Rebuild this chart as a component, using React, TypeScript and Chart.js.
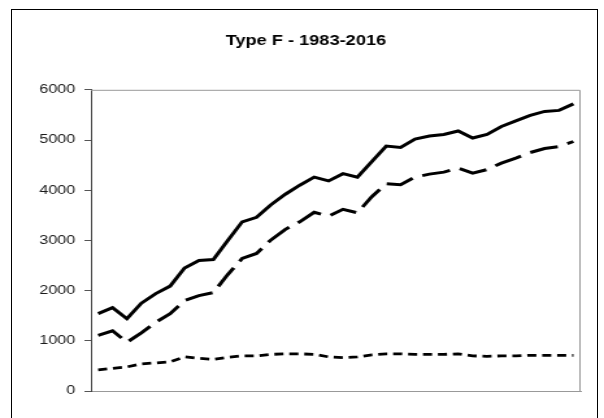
import React, { useEffect, useRef } from "react";
import { Chart, registerables } from "chart.js";

Chart.register(...registerables);

const TITLE = "Type F - 1983-2016";

const years = [
  "1983", "1984", "1985", "1986", "1987", "1988", "1989", "1990", "1991", "1992",
  "1993", "1994", "1995", "1996", "1997", "1998", "1999", "2000", "2001", "2002",
  "2003", "2004", "2005", "2006", "2007", "2008", "2009", "2010", "2011", "2012",
  "2013", "2014", "2015", "2016",
];

const totalValues = [
  1540, 1660, 1440, 1750, 1940, 2090, 2450, 2600, 2620, 3000,
  3370, 3460, 3710, 3920, 4100, 4260, 4185, 4330, 4260, 4570,
  4880, 4850, 5020, 5080, 5110, 5180, 5040, 5110, 5270, 5380,
  5490, 5570, 5590, 5720,
];

const longDashValues = [
  1110, 1200, 970, 1160, 1370, 1540, 1800, 1900, 1960, 2320,
  2640, 2740, 3010, 3220, 3370, 3560, 3480, 3620, 3550, 3870,
  4130, 4110, 4260, 4320, 4360, 4440, 4340, 4410, 4540, 4640,
  4750, 4830, 4870, 4970,
];

const shortDashValues = [
  420, 450, 480, 540, 560, 580, 680, 650, 630, 670,
  700, 700, 730, 740, 740, 730, 680, 665, 680, 720,
  740, 740, 730, 730, 730, 740, 700, 690, 700, 700,
  710, 710, 710, 710,
];

const yTicks = [0, 1000, 2000, 3000, 4000, 5000, 6000];

const W = 465;
const H = 418;
const SX = 604 / W;

const plotFrame = {
  id: "plotFrame",
  afterDatasetsDraw(chart: any) {
    const { ctx, chartArea } = chart;
    ctx.save();
    ctx.strokeStyle = "#999999";
    ctx.lineWidth = 1;
    ctx.beginPath();
    ctx.moveTo(chartArea.left, chartArea.top + 0.5);
    ctx.lineTo(chartArea.right - 0.5, chartArea.top + 0.5);
    ctx.lineTo(chartArea.right - 0.5, chartArea.bottom);
    ctx.stroke();
    ctx.restore();
  },
};

export default function App() {
  const ref = useRef<HTMLCanvasElement | null>(null);

  useEffect(() => {
    if (!ref.current) return;
    const chart = new Chart(ref.current, {
      type: "line",
      data: {
        labels: years,
        datasets: [
          {
            label: "Total",
            data: totalValues,
            borderColor: "#000000",
            borderWidth: 3,
            pointRadius: 0,
            tension: 0,
            fill: false,
          },
          {
            label: "Long dash",
            data: longDashValues,
            borderColor: "#000000",
            borderWidth: 3,
            borderDash: [22, 8],
            pointRadius: 0,
            tension: 0,
            fill: false,
          },
          {
            label: "Short dash",
            data: shortDashValues,
            borderColor: "#000000",
            borderWidth: 2.8,
            borderDash: [7, 4.5],
            pointRadius: 0,
            tension: 0,
            fill: false,
          },
        ],
      },
      options: {
        responsive: false,
        animation: false,
        layout: { padding: { left: 24, right: 18, top: 0, bottom: 27 } },
        plugins: {
          legend: { display: false },
          tooltip: { enabled: false },
          title: {
            display: true,
            text: TITLE,
            color: "#000000",
            font: { family: "'Liberation Sans', Arial, sans-serif", size: 14, weight: "bold" },
            padding: { top: 33, bottom: 40 },
          },
        },
        scales: {
          x: {
            type: "category",
            offset: true,
            grid: { display: false },
            ticks: { display: false },
            border: { display: true, color: "#999999", width: 1 },
            afterFit(scale: any) {
              scale.height = 0;
            },
          },
          y: {
            min: 0,
            max: 6000,
            afterBuildTicks(scale: any) {
              scale.ticks = yTicks.map((v) => ({ value: v }));
            },
            ticks: {
              color: "#1a1a1a",
              padding: 7,
              font: { family: "'Liberation Sans', Arial, sans-serif", size: 12.5 },
              callback: (value: any) => String(value),
            },
            grid: {
              display: true,
              drawOnChartArea: false,
              drawTicks: true,
              tickLength: 5,
              color: "#555555",
            },
            border: { display: true, color: "#444444", width: 1 },
            afterFit(scale: any) {
              scale.width = 46;
            },
          },
        },
      },
      plugins: [plotFrame],
    });
    return () => chart.destroy();
  }, []);

  return (
    <div
      style={{
        position: "absolute",
        left: 0,
        top: 0,
        width: 604,
        height: 418,
        overflow: "hidden",
        background: "#ffffff",
      }}
    >
      <div
        style={{
          position: "absolute",
          left: 0,
          top: 0,
          width: W,
          height: H,
          transform: `scaleX(${SX})`,
          transformOrigin: "0 0",
        }}
      >
        <canvas
          ref={ref}
          width={W}
          height={H}
          style={{ width: W, height: H, display: "block" }}
        />
      </div>
      <div
        style={{
          position: "absolute",
          left: 11,
          top: 9,
          width: 585,
          height: 430,
          border: "1px solid #000000",
          pointerEvents: "none",
        }}
      />
    </div>
  );
}
